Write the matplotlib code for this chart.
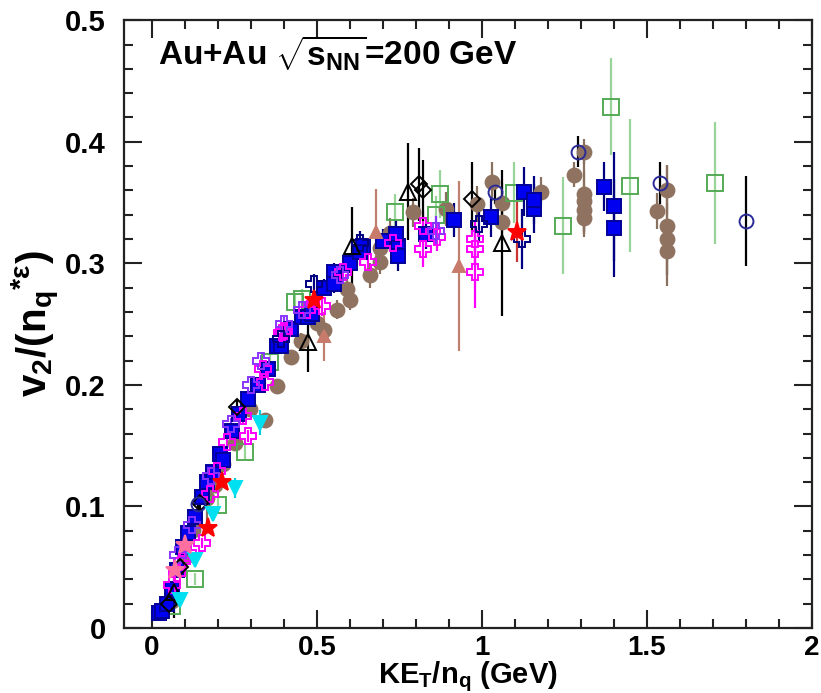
import matplotlib
matplotlib.use("Agg")
import matplotlib.pyplot as plt
from matplotlib.ticker import MultipleLocator, FuncFormatter

plt.rcParams['font.family'] = ['Liberation Sans', 'DejaVu Sans']
plt.rcParams['mathtext.fontset'] = 'custom'
plt.rcParams['mathtext.rm'] = 'Liberation Sans:bold'
plt.rcParams['mathtext.it'] = 'Liberation Sans:bold'
plt.rcParams['mathtext.bf'] = 'Liberation Sans:bold'

# ---- data: KE_T/n_q, v2/(n_q*eps), error ----
blue_x = [0.020, 0.030, 0.045, 0.060, 0.075, 0.094, 0.110, 0.130, 0.150, 0.167, 0.185, 0.206, 0.215,
          0.243, 0.265, 0.290, 0.320, 0.352, 0.380, 0.390, 0.420, 0.455, 0.473, 0.485, 0.520, 0.550,
          0.550, 0.600, 0.640, 0.630, 0.700, 0.745, 0.745, 0.740, 0.830, 0.915, 1.026, 1.126, 1.157,
          1.157, 1.370, 1.400, 1.400]
blue_y = [0.012, 0.014, 0.020, 0.032, 0.048, 0.067, 0.078, 0.091, 0.108, 0.120, 0.128, 0.143, 0.138,
          0.162, 0.176, 0.188, 0.200, 0.213, 0.232, 0.232, 0.246, 0.256, 0.256, 0.258, 0.280, 0.293,
          0.283, 0.300, 0.314, 0.309, 0.318, 0.314, 0.306, 0.324, 0.324, 0.336, 0.338, 0.359, 0.345,
          0.352, 0.363, 0.347, 0.329]
blue_e = [0.003, 0.003, 0.003, 0.003, 0.003, 0.004, 0.004, 0.004, 0.004, 0.004, 0.004, 0.004, 0.004,
          0.004, 0.005, 0.005, 0.005, 0.005, 0.005, 0.006, 0.006, 0.006, 0.006, 0.006, 0.007, 0.007,
          0.007, 0.008, 0.008, 0.010, 0.010, 0.010, 0.012, 0.012, 0.012, 0.014, 0.016, 0.020, 0.020,
          0.020, 0.020, 0.045, 0.040]

brown_x = [0.060, 0.100, 0.124, 0.167, 0.190, 0.215, 0.250, 0.297, 0.343, 0.380, 0.420, 0.450, 0.500,
           0.520, 0.560, 0.590, 0.600, 0.660, 0.690, 0.690, 0.720, 0.790, 0.890, 0.986, 1.030, 1.060,
           1.060, 1.180, 1.280, 1.310, 1.310, 1.310, 1.310, 1.310, 1.530, 1.560, 1.560, 1.560, 1.560]
brown_y = [0.022, 0.058, 0.081, 0.107, 0.118, 0.135, 0.152, 0.180, 0.171, 0.199, 0.223, 0.236, 0.251,
           0.245, 0.262, 0.279, 0.270, 0.290, 0.301, 0.313, 0.325, 0.342, 0.345, 0.349, 0.367, 0.350,
           0.334, 0.359, 0.373, 0.392, 0.357, 0.351, 0.344, 0.337, 0.343, 0.360, 0.331, 0.320, 0.310]
brown_e = [0.003, 0.004, 0.004, 0.020, 0.005, 0.005, 0.005, 0.006, 0.006, 0.006, 0.006, 0.007, 0.007,
           0.007, 0.008, 0.008, 0.008, 0.010, 0.010, 0.010, 0.012, 0.012, 0.014, 0.015, 0.016, 0.016,
           0.016, 0.012, 0.010, 0.010, 0.030, 0.025, 0.020, 0.015, 0.015, 0.020, 0.050, 0.030, 0.020]

mag_x = [0.060, 0.076, 0.090, 0.110, 0.152, 0.175, 0.197, 0.228, 0.276, 0.290, 0.337, 0.343, 0.395,
         0.400, 0.470, 0.516, 0.580, 0.655, 0.730, 0.820, 0.820, 0.865, 0.980, 0.980, 0.980]
mag_y = [0.035, 0.045, 0.055, 0.062, 0.070, 0.110, 0.129, 0.153, 0.174, 0.158, 0.213, 0.202, 0.243,
         0.244, 0.262, 0.265, 0.293, 0.301, 0.317, 0.331, 0.312, 0.322, 0.320, 0.312, 0.293]
mag_e = [0.004, 0.004, 0.004, 0.004, 0.004, 0.005, 0.005, 0.005, 0.005, 0.005, 0.006, 0.006, 0.006,
         0.006, 0.008, 0.008, 0.010, 0.010, 0.012, 0.012, 0.015, 0.012, 0.015, 0.015, 0.030]

violet_x = [0.080, 0.120, 0.180, 0.240, 0.300, 0.330, 0.400, 0.455, 0.570, 0.860]
violet_y = [0.060, 0.085, 0.125, 0.168, 0.200, 0.220, 0.250, 0.262, 0.290, 0.327]
violet_e = [0.004, 0.004, 0.004, 0.005, 0.005, 0.005, 0.006, 0.007, 0.008, 0.012]

navyx_x = [0.390, 0.490, 0.630, 0.990, 1.120]
navyx_y = [0.238, 0.283, 0.317, 0.332, 0.320]
navyx_e = [0.006, 0.008, 0.010, 0.015, 0.025]

green_x = [0.060, 0.130, 0.200, 0.282, 0.358, 0.434, 0.455, 0.737, 0.860, 0.874, 1.096, 1.247, 1.390,
           1.450, 1.706]
green_y = [0.018, 0.040, 0.101, 0.145, 0.219, 0.268, 0.271, 0.342, 0.340, 0.357, 0.358, 0.331, 0.429,
           0.364, 0.366]
green_e = [0.004, 0.005, 0.006, 0.006, 0.007, 0.008, 0.008, 0.015, 0.015, 0.020, 0.025, 0.040, 0.040,
           0.055, 0.050]

tri_x = [0.066, 0.473, 0.605, 0.777, 1.060]
tri_y = [0.030, 0.235, 0.314, 0.359, 0.317]
tri_e = [0.022, 0.024, 0.032, 0.040, 0.060]

dia_x = [0.050, 0.085, 0.146, 0.257, 0.810, 0.820, 0.970]
dia_y = [0.020, 0.050, 0.103, 0.182, 0.365, 0.360, 0.353]
dia_e = [0.004, 0.005, 0.005, 0.006, 0.030, 0.025, 0.030]

circ_x = [0.140, 1.040, 1.290, 1.540, 1.800]
circ_y = [0.102, 0.359, 0.392, 0.366, 0.335]
circ_e = [0.004, 0.010, 0.013, 0.017, 0.037]

star_x = [0.170, 0.212, 0.490, 1.105]
star_y = [0.082, 0.120, 0.270, 0.326]
star_e = [0.004, 0.005, 0.008, 0.025]

cyan_x = [0.085, 0.130, 0.185, 0.252, 0.328]
cyan_y = [0.023, 0.056, 0.094, 0.115, 0.169]
cyan_e = [0.005, 0.006, 0.006, 0.008, 0.010]

rosy_x = [0.520, 0.680, 0.930]
rosy_y = [0.240, 0.326, 0.298]
rosy_e = [0.020, 0.035, 0.070]

pink_x = [0.070, 0.100]
pink_y = [0.048, 0.068]
pink_e = [0.004, 0.004]

# (x, y, err, marker, size, face, edge, errcolor)
series = [
    (brown_x, brown_y, brown_e, 'o', 10, '#8f7260', '#8f7260', '#8a705e'),
    (green_x, green_y, green_e, 's', 11, 'none', '#55aa55', '#99d499'),
    (blue_x, blue_y, blue_e, 's', 10, '#0000f0', '#000099', '#000080'),
    (mag_x, mag_y, mag_e, 'P', 11, 'none', '#ff00ff', '#ff00ff'),
    (violet_x, violet_y, violet_e, 'P', 11, 'none', '#8833ff', '#8833ff'),
    (navyx_x, navyx_y, navyx_e, 'P', 11, 'none', '#000080', '#000080'),
    (tri_x, tri_y, tri_e, '^', 11, 'none', 'black', 'black'),
    (dia_x, dia_y, dia_e, 'D', 8, 'none', 'black', 'black'),
    (circ_x, circ_y, circ_e, 'o', 10, 'none', '#2a2a99', 'black'),
    (cyan_x, cyan_y, cyan_e, 'v', 10, '#00e0f0', '#00e0f0', '#00d0e0'),
    (rosy_x, rosy_y, rosy_e, '^', 9, '#c87b6b', '#c87b6b', '#c08070'),
    (star_x, star_y, star_e, '*', 14, '#ff0000', '#ff0000', '#cc3333'),
    (pink_x, pink_y, pink_e, '*', 14, '#ff6f9f', '#ff6f9f', '#ff6f9f'),
]

fig = plt.figure(figsize=(8.21, 6.93), dpi=100)
ax = fig.add_axes([0.151, 0.0938, 0.838, 0.877])

for x, y, e, m, ms, fc, ec, erc in series:
    ax.errorbar(x, y, yerr=e, fmt='none', ecolor=erc, elinewidth=1.6, capsize=0, zorder=2)
    ax.plot(x, y, linestyle='none', marker=m, markersize=ms, markerfacecolor=fc,
            markeredgecolor=ec, markeredgewidth=1.4, zorder=3)

ax.set_xlim(-0.085, 2.0)
ax.set_ylim(0, 0.5)
ax.xaxis.set_major_locator(MultipleLocator(0.5))
ax.xaxis.set_minor_locator(MultipleLocator(0.1))
ax.yaxis.set_major_locator(MultipleLocator(0.1))
ax.yaxis.set_minor_locator(MultipleLocator(0.02))
fmt = FuncFormatter(lambda v, p: '%g' % round(v, 3))
ax.xaxis.set_major_formatter(fmt)
ax.yaxis.set_major_formatter(fmt)

ax.tick_params(which='both', direction='in', top=True, right=True, width=1.5, colors='#222222')
ax.tick_params(which='major', length=13)
ax.tick_params(which='minor', length=6.5)
ax.tick_params(axis='x', which='major', pad=5, labelsize=20)
ax.tick_params(axis='y', which='major', pad=13, labelsize=21)
for lab in ax.get_xticklabels() + ax.get_yticklabels():
    lab.set_fontweight('bold')
    lab.set_color('black')
for sp in ax.spines.values():
    sp.set_linewidth(1.6)
    sp.set_color('#222222')

ax.set_xlabel(r'KE$_{\mathrm{T}}$/n$_{\mathrm{q}}$ (GeV)', fontsize=21, fontweight='bold', labelpad=-1)
ax.set_ylabel(r'v$_{2}$/(n$_{\mathrm{q}}$$^{*\varepsilon}$)', fontsize=29, fontweight='bold', labelpad=2)

ax.text(0.049, 0.926, r'Au+Au $\sqrt{\mathrm{s}_{\mathrm{NN}}}$=200 GeV', transform=ax.transAxes,
        fontsize=24, fontweight='bold', va='baseline', ha='left')

fig.savefig('out.png', dpi=100)
